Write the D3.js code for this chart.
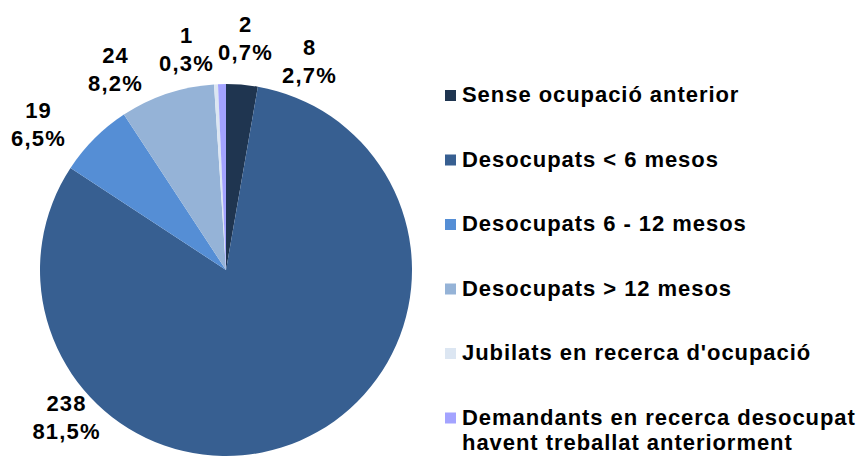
<!DOCTYPE html>
<html>
<head>
<meta charset="utf-8">
<script src="https://cdn.jsdelivr.net/npm/d3@7"></script>
<style>
  html, body { margin: 0; padding: 0; background: #fff; }
  svg text { font-family: "Liberation Sans", Arial, sans-serif; font-weight: bold; fill: #000; }
</style>
</head>
<body>
<svg id="chart" width="861" height="457"></svg>
<script>
/* Pie chart of demandants per categoria, labels "valor / %" outside */
const categories = [
  'Sense ocupació anterior',
  'Desocupats < 6 mesos',
  'Desocupats 6 - 12 mesos',
  'Desocupats > 12 mesos',
  "Jubilats en recerca d'ocupació",
  'Demandants en recerca desocupat havent treballat anteriorment'
];
const legendLines = [
  ['Sense ocupació anterior'],
  ['Desocupats < 6 mesos'],
  ['Desocupats 6 - 12 mesos'],
  ['Desocupats > 12 mesos'],
  ["Jubilats en recerca d'ocupació"],
  ['Demandants en recerca desocupat', 'havent treballat anteriorment']
];
const values = [8, 238, 19, 24, 1, 2];
const pctLabels = ['2,7%', '81,5%', '6,5%', '8,2%', '0,3%', '0,7%'];
const colors = ['#1F3550', '#375F91', '#558ED5', '#95B3D7', '#DCE6F2', '#A3A3FF'];

// label placement (Excel "best fit"): centre x, baseline of first line
const labelPos = [[309, 55], [66, 411], [38, 118], [115, 63], [186, 43], [245, 32]];

const cx = 226, cy = 270, radius = 186;
const svg = d3.select('#chart');

const pie = d3.pie().sort(null).value(d => d);
const arc = d3.arc().innerRadius(0).outerRadius(radius);

const g = svg.append('g').attr('transform', `translate(${cx},${cy})`);
g.selectAll('path')
  .data(pie(values))
  .join('path')
  .attr('d', arc)
  .attr('fill', (d, i) => colors[i]);

// data labels
const lab = svg.append('g');
values.forEach((v, i) => {
  const [x, y] = labelPos[i];
  const t = lab.append('text')
    .attr('text-anchor', 'middle')
    .attr('font-size', 22)
    .attr('letter-spacing', 1.2);
  t.append('tspan').attr('x', x + 0.6).attr('y', y).text(v);
  t.append('tspan').attr('x', x + 0.6).attr('y', y + 28).text(pctLabels[i]);
});

// legend
const legY = d3.scalePoint().domain(d3.range(categories.length)).range([95.5, 418]);
const leg = svg.append('g');
categories.forEach((c, i) => {
  const y = legY(i);
  leg.append('rect')
    .attr('x', 445).attr('y', y - 5.5)
    .attr('width', 11).attr('height', 11)
    .attr('fill', colors[i]);
  const t = leg.append('text').attr('font-size', 22).attr('letter-spacing', 0.95);
  legendLines[i].forEach((ln, k) => {
    t.append('tspan').attr('x', 462).attr('y', y + 6.5 + k * 25).text(ln);
  });
});
</script>
</body>
</html>
